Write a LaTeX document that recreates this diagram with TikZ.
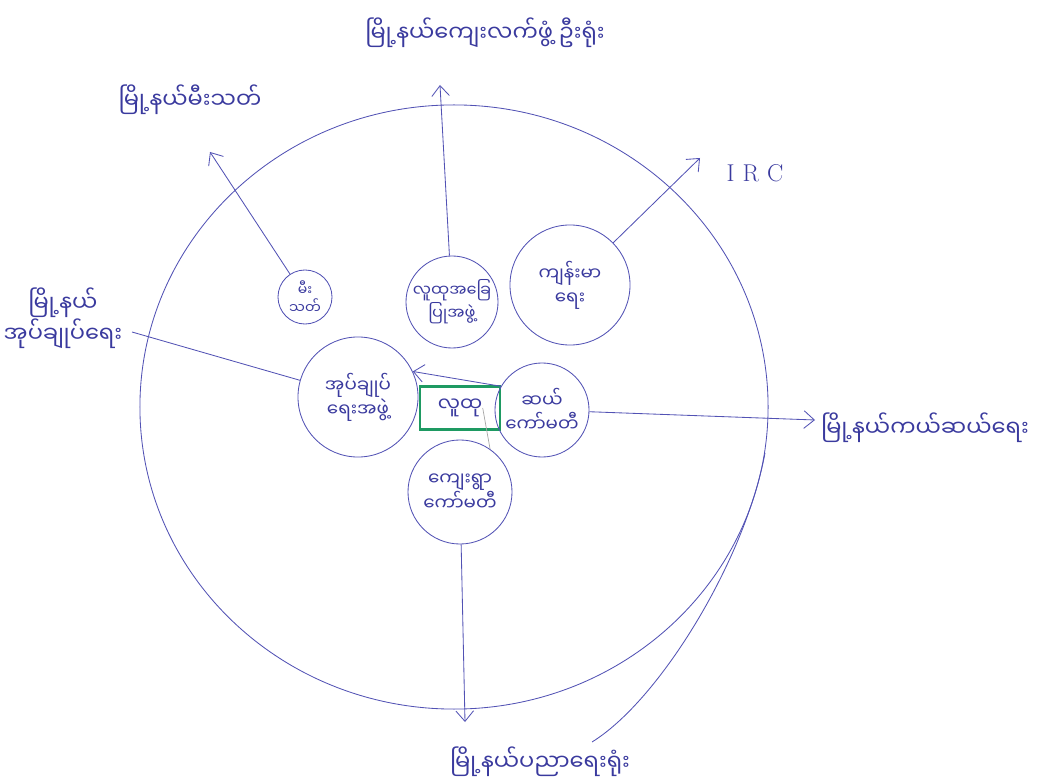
\documentclass[tikz,border=0pt]{standalone}
\usepackage{fontspec}
\newfontfamily\mmfont[Script=Myanmar]{Noto Sans Myanmar UI}
\definecolor{inkblue}{HTML}{3A3A9E}
\definecolor{inkline}{HTML}{5252B4}
\definecolor{boxgreen}{HTML}{1E9A62}
\usepackage{tikz}
\usetikzlibrary{arrows.meta,calc}

\begin{document}
\begin{tikzpicture}[x=0.025cm,y=-0.025cm,
  pen/.style={inkline,line width=0.6pt},
  penarrow/.style={pen,-{Straight Barb[length=2.6mm,width=4.4mm]}},
  org/.style={circle,draw=inkline,line width=0.6pt,inner sep=0pt,align=center,
    text=inkblue,font=\mmfont\fontsize{13}{17}\selectfont},
  outer/.style={align=center,text=inkblue,font=\mmfont\fontsize{16}{21}\selectfont}]
  \useasboundingbox (0,0) rectangle (1046,780);
  % township boundary
  \draw[pen] (454,407) ellipse [x radius=7.85cm,y radius=7.55cm];
  % community in the middle
  \node[draw=boxgreen,line width=1.8pt,minimum width=2cm,minimum height=1.075cm,
    text=inkblue,font=\mmfont\fontsize{14}{17}\selectfont] (lutu) at (460,408) {လူထု};
  % groups round it
  \node[org,minimum size=1.35cm,font=\mmfont\fontsize{10}{13}\selectfont] (fire) at (305,297) {မီး\\သတ်};
  \node[org,minimum size=2.3cm,font=\mmfont\fontsize{11.5}{15}\selectfont] (ldev) at (452,302) {လူထုအခြေ\\ပြုအဖွဲ့};
  \node[org,minimum size=3cm] (health) at (570,285) {ကျန်းမာ\\ရေး};
  \node[org,minimum size=3cm] (admin) at (358,397) {အုပ်ချုပ်\\ရေးအဖွဲ့};
  \node[org,minimum size=2.35cm] (rc) at (542,410) {ဆယ်\\ကော်မတီ};
  \node[org,minimum size=2.6cm] (village) at (460,492) {ကျေးရွာ\\ကော်မတီ};
  % township offices outside
  \node[outer] (lblfire) at (190,100) {မြို့နယ်မီးသတ်};
  \node[outer] (lbldev) at (485,33) {မြို့နယ်ကျေးလက်ဖွံ့ ဦးရုံး};
  \node[text=inkblue,font=\LARGE] (lblirc) at (755,173) {I\,\,R\,\,C};
  \node[outer] (lbladmin) at (63,318) {မြို့နယ်\\အုပ်ချုပ်ရေး};
  \node[outer] (lblrc) at (925,428) {မြို့နယ်ကယ်ဆယ်ရေး};
  \node[outer] (lbledu) at (540,762) {မြို့နယ်ပညာရေးရုံး};
  % arrow ends
  \coordinate (tipfire) at (210,152);
  \coordinate (tipldev) at (440,85);
  \coordinate (tiphealth) at (700,158);
  \coordinate (endadmin) at (132,332);
  \coordinate (tiprc) at (815,420);
  \coordinate (tipvillage) at (465,722);
  \draw[penarrow] (fire) -- (tipfire);
  \draw[penarrow] (ldev) -- (tipldev);
  \draw[penarrow] (health) -- (tiphealth);
  \draw[pen] (admin) -- (endadmin);
  \draw[penarrow] (rc) -- (tiprc);
  \draw[penarrow] (village) -- (tipvillage);
  \draw[penarrow] (rc.150) -- (admin.25);
  \draw[gray!70,line width=0.5pt] ($(lutu.center)!0.55!(lutu.east)$) -- (village.55);
  % loose stroke at the lower right
  \coordinate (cvA) at (765,453);
  \coordinate (cvB) at (592,742);
  \draw[pen] (cvA) .. controls (745,560) and (660,700) .. (cvB);
\end{tikzpicture}
\end{document}
